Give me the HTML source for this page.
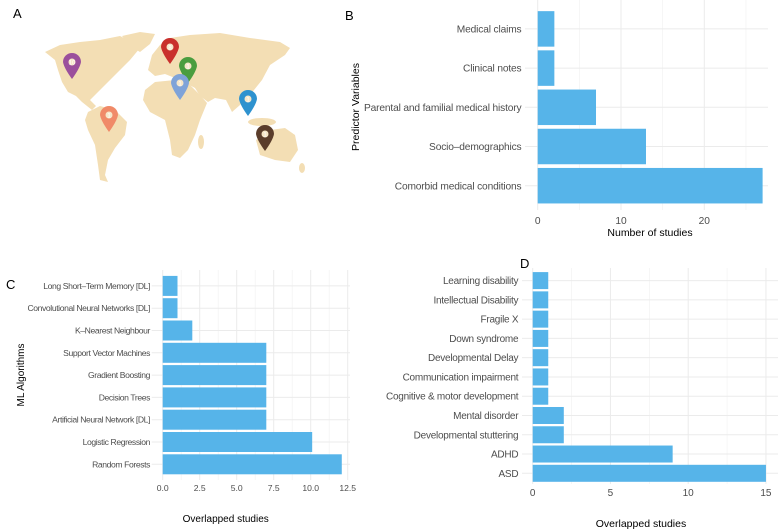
<!DOCTYPE html>
<html><head><meta charset="utf-8">
<style>
body{margin:0;background:#fff;}
svg{display:block;font-family:"Liberation Sans",sans-serif;}
</style></head>
<body>
<svg id="fig" width="778" height="530" viewBox="0 0 778 530" xmlns="http://www.w3.org/2000/svg">
  <text x="13" y="18" font-size="13">A</text>
  <text x="345" y="20" font-size="13">B</text>
  <text x="6" y="289" font-size="13">C</text>
  <text x="520" y="268" font-size="13">D</text>
  <g id="map" fill="#f3deb4">
    <polygon points="45,52 60,45 80,42 100,40 120,36 128,40 140,48 130,60 120,70 112,78 104,86 96,94 90,100 96,106 92,110 82,102 76,96 68,92 62,82 58,70 55,60"/>
    <polygon points="122,36 140,32 155,34 150,44 140,52 130,46"/>
    <polygon points="88,112 100,106 115,110 127,122 125,135 115,148 108,160 105,175 108,182 100,180 98,165 95,145 88,130 85,120"/>
    <polygon points="148,70 152,55 160,45 170,38 190,35 220,33 250,38 280,42 290,48 285,55 270,65 262,80 250,95 240,105 232,112 226,100 215,98 208,102 200,96 195,88 180,80 165,74 155,76"/>
    <polygon points="145,90 155,82 175,80 190,85 200,95 207,103 200,120 195,135 188,150 180,158 172,155 170,140 165,120 150,112 143,100"/>
    <polygon points="256,140 270,130 285,128 295,135 298,150 290,162 275,160 260,155"/>
    <ellipse cx="262" cy="122" rx="14" ry="4"/>
    <ellipse cx="201" cy="142" rx="3" ry="7"/>
    <ellipse cx="302" cy="168" rx="3" ry="5"/>
  </g>
  <g id="pins"></g>
  <g id="chartB"></g>
  <g id="chartC"></g>
  <g id="chartD"></g>
</svg>
<script>
const NS="http://www.w3.org/2000/svg";
// Map pins
const pinCountries=["usa","europe-north","europe-east","middle-east","south-america","asia","australia"];
const pinCounts=["10","8","1","1","1","1","1"];
const pinColors=["#9b4f9c","#c9302c","#4a9d3f","#7fa3d8","#f08a68","#2e92cf","#5b3d2b"];
const pinX=[72,170,188,180,109,248,265];
const pinY=[62,47,66,83,115,99,134];
// Chart B
const bCats=["Comorbid medical conditions","Socio\u2013demographics","Parental and familial medical history","Clinical notes","Medical claims"];
const bVals=[27,13,7,2,2];
const bTicks=[0,10,20];
// Chart C
const cCats=["Random Forests","Logistic Regression","Artificial Neural Network [DL]","Decision Trees","Gradient Boosting","Support Vector Machines","K\u2013Nearest Neighbour","Convolutional Neural Networks [DL]","Long Short\u2013Term Memory [DL]"];
const cVals=[12.1,10.1,7,7,7,7,2,1,1];
const cTicks=["0.0","2.5","5.0","7.5","10.0","12.5"];
// Chart D
const dCats=["ASD","ADHD","Developmental stuttering","Mental disorder","Cognitive & motor development","Communication impairment","Developmental Delay","Down syndrome","Fragile X","Intellectual Disability","Learning disability"];
const dVals=[15,9,2,2,1,1,1,1,1,1,1];
const dTicks=[0,5,10,15];

function mk(tag,attrs,parent){const e=document.createElementNS(NS,tag);for(const k in attrs)e.setAttribute(k,attrs[k]);parent.appendChild(e);return e;}

const pg=document.getElementById('pins');
pinX.forEach((x,i)=>{
  const y=pinY[i];
  const g=mk('g',{},pg);
  
  
  mk('path',{d:`M${x-9},${y} A9,9 0 1,1 ${x+9},${y} Q${x+8},${y+6} ${x},${y+17} Q${x-8},${y+6} ${x-9},${y} Z`,fill:pinColors[i]},g);
  mk('circle',{cx:x,cy:y,r:3.5,fill:'#f6e6c8'},g);
  const t=mk('text',{x:x,y:y+2.3,'font-size':6,'text-anchor':'middle',fill:'#fff'},g);
  t.textContent=pinCounts[i];
});

function chart(id,cfg){
  const g=document.getElementById(id);
  const xs=v=>cfg.x0+(v-cfg.min)*cfg.ppu;
  const yc=i=>cfg.yBottom-i*cfg.step;
  cfg.ticks.forEach((t,j)=>{
    const v=parseFloat(t);
    const l=mk('line',{x1:xs(v),x2:xs(v),y1:cfg.top,y2:cfg.bottom,stroke:'#ebebeb','stroke-width':1},g);
    
    
    const tx=mk('text',{x:xs(v),y:cfg.tickY,'font-size':cfg.fs,'text-anchor':'middle',fill:'#4d4d4d'},g);
    
    
    tx.textContent=t;
    if(j<cfg.ticks.length-1){
      const m=(v+parseFloat(cfg.ticks[j+1]))/2;
      mk('line',{x1:xs(m),x2:xs(m),y1:cfg.top,y2:cfg.bottom,stroke:'#f2f2f2','stroke-width':0.7},g);
    }
  });
  if(cfg.extraTick!==undefined){
    const v=cfg.extraTick;
    mk('line',{x1:xs(v),x2:xs(v),y1:cfg.top,y2:cfg.bottom,stroke:'#f2f2f2','stroke-width':0.7},g);
  }
  cfg.cats.forEach((c,i)=>{
    const y=yc(i);
    mk('line',{x1:cfg.gridL,x2:cfg.gridR,y1:y,y2:y,stroke:'#ebebeb','stroke-width':1},g);
    const r=mk('rect',{x:xs(0),y:y-cfg.bh/2,width:xs(cfg.vals[i])-xs(0),height:cfg.bh,fill:'#56b4e9'},g);
    
    
    const t=mk('text',{x:cfg.labelX,y:y+cfg.fs*0.35,'font-size':cfg.fs,'text-anchor':'end',fill:'#4d4d4d','letter-spacing':cfg.ls||0},g);
    
    
    t.textContent=c;
  });
  const xt=mk('text',{x:cfg.titleX,y:cfg.titleY,'font-size':cfg.tfs,'text-anchor':'middle',fill:'#000'},g);
  
  
  xt.textContent=cfg.xTitle;
  if(cfg.yTitle){
    const yt=mk('text',{x:0,y:0,'font-size':cfg.tfs,'text-anchor':'middle',fill:'#000',transform:`translate(${cfg.yTitleX},${cfg.yTitleY}) rotate(-90)`},g);
    
    
    yt.textContent=cfg.yTitle;
  }
}

chart('chartB',{cats:bCats,vals:bVals,ticks:bTicks,min:0,x0:537.7,ppu:8.33,yBottom:185.7,step:39.2,bh:35.5,
  top:0,bottom:210,gridL:525,gridR:768,labelX:521.5,fs:10.2,ls:-0.15,tickY:224,tfs:10.5,
  xTitle:'Number of studies',titleX:650,titleY:236,yTitle:'Predictor Variables',yTitleX:359,yTitleY:107,extraTick:25});
chart('chartC',{cats:cCats,vals:cVals,ticks:cTicks,min:0,x0:162.7,ppu:14.8,yBottom:464.3,step:22.3,bh:20,
  top:270,bottom:480,gridL:151.7,gridR:350,labelX:150,fs:8.6,ls:-0.4,tickY:491,tfs:10,
  xTitle:'Overlapped studies',titleX:225.7,titleY:522,yTitle:'ML Algorithms',yTitleX:24,yTitleY:375});
chart('chartD',{cats:dCats,vals:dVals,ticks:dTicks,min:0,x0:532.7,ppu:15.55,yBottom:473.3,step:19.27,bh:17,
  top:268,bottom:484,gridL:522,gridR:778,labelX:518.3,fs:10,ls:-0.25,tickY:496,tfs:10.5,
  xTitle:'Overlapped studies',titleX:641,titleY:527});
</script>
</body></html>
